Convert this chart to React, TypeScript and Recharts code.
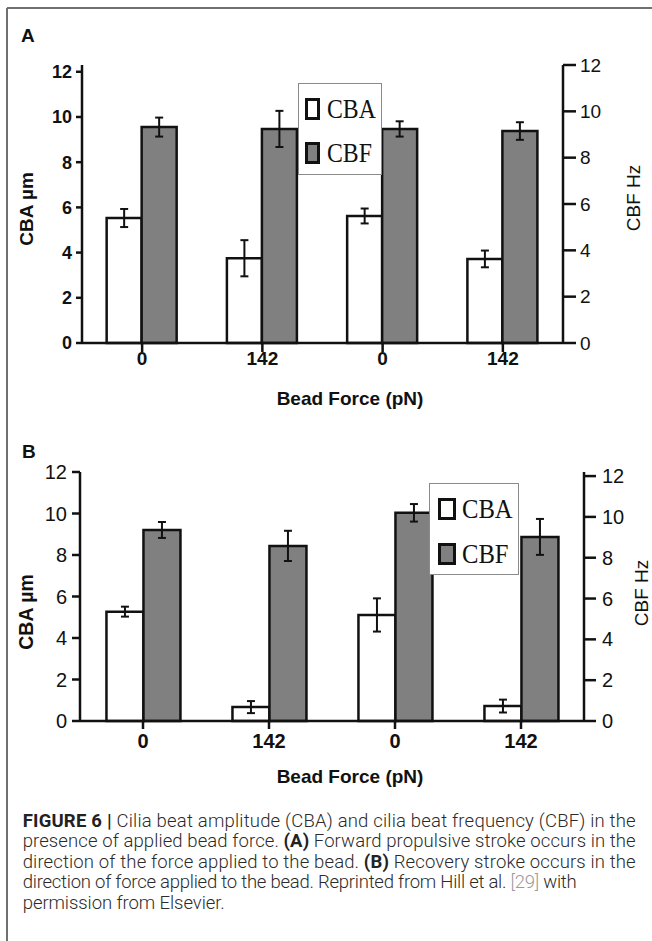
import React from 'react';
import { BarChart, Bar, XAxis, YAxis, ErrorBar, Legend, Label } from 'recharts';

const forceLabels = ['0', '142', '0', '142'];
const seriesNames = ['CBA', 'CBF'];
const seriesFills = ['#ffffff', '#808080'];
const yTicks = [0, 2, 4, 6, 8, 10, 12];

// (A) forward propulsive stroke
const cbaA = [5.53, 3.75, 5.62, 3.72];
const cbaErrA = [0.4, 0.8, 0.33, 0.37];
const cbfA = [9.32, 9.24, 9.24, 9.15];
const cbfErrA = [0.41, 0.78, 0.33, 0.38];

// (B) recovery stroke
const cbaB = [5.27, 0.67, 5.11, 0.72];
const cbaErrB = [0.24, 0.29, 0.8, 0.31];
const cbfB = [9.36, 8.58, 10.2, 9.02];
const cbfErrB = [0.39, 0.74, 0.43, 0.88];

const SANS = '"Liberation Sans", Arial, Helvetica, sans-serif';
const SERIF = '"Liberation Serif", "Times New Roman", serif';
const CAPTION_FONT = 'Roboto, "Liberation Sans", Arial, sans-serif';
const INK = '#111111';

const makeRows = (cba: number[], cbaErr: number[], cbf: number[], cbfErr: number[]) =>
  forceLabels.map((force, i) => ({
    force,
    cba: cba[i],
    cbaErr: cbaErr[i],
    cbf: cbf[i],
    cbfErr: cbfErr[i],
  }));

const panelA = {
  rows: makeRows(cbaA, cbaErrA, cbfA, cbfErrA),
  top: 0, height: 420, marginTop: 65,
  leftW: 82, rightW: 89, xAxisH: 77,
  leftMax: 12.3, rightMax: 12,
  gap: '20.5%',
  leftTick: { size: 6, margin: 4, fontSize: 18, fontWeight: 700 },
  rightTick: { size: 13, margin: 4, fontSize: 19, fontWeight: 400 },
  xTick: { size: 9, margin: 0, fontSize: 19 },
  title: { dx: 27.5, base: 15 },
  leftTitle: { dx: 26, dy: 5, size: 19 },
  rightTitle: { dx: 70, dy: -6, size: 19 },
  legend: { left: 298, top: 83, width: 84, height: 92, iconX: 6, iconW: 15, iconH: 22, textX: 28, rowsY: [25, 69], fontSize: 27 },
};

const panelB = {
  rows: makeRows(cbaB, cbaErrB, cbfB, cbfErrB),
  top: 430, height: 370, marginTop: 42,
  leftW: 80, rightW: 68, xAxisH: 79,
  leftMax: 12, rightMax: 12.2,
  gap: '21%',
  leftTick: { size: 8, margin: 5, fontSize: 20, fontWeight: 400 },
  rightTick: { size: 12, margin: 6, fontSize: 20, fontWeight: 400 },
  xTick: { size: 8, margin: 5, fontSize: 20 },
  title: { dx: 18, base: 17 },
  leftTitle: { dx: 26, dy: 15.5, size: 19.5 },
  rightTitle: { dx: 57, dy: -3.5, size: 19 },
  legend: { left: 429, top: 483, width: 90, height: 92, iconX: 8, iconW: 18, iconH: 22, textX: 32, rowsY: [25, 70], fontSize: 28 },
};

type Panel = typeof panelA;

const vTitle = (p: any, text: string, dx: number, dy: number, size: number, weight: number) => {
  const vb = p.viewBox;
  const cx = vb.x + dx;
  const cy = vb.y + vb.height / 2 + dy;
  return (
    <text
      x={cx}
      y={cy}
      transform={`rotate(-90 ${cx} ${cy})`}
      textAnchor="middle"
      dominantBaseline="central"
      fontFamily={SANS}
      fontSize={size}
      fontWeight={weight}
      fill={INK}
    >
      {text}
    </text>
  );
};

const xTitle = (p: any, dx: number, base: number) => {
  const vb = p.viewBox;
  return (
    <text
      x={vb.x + vb.width / 2 + dx}
      y={vb.y + vb.height - base}
      textAnchor="middle"
      fontFamily={SANS}
      fontSize={19}
      fontWeight={700}
      fill={INK}
    >
      Bead Force (pN)
    </text>
  );
};

const legendBox = (cfg: Panel['legend']) => (props: any) => (
  <div
    style={{
      position: 'relative',
      boxSizing: 'border-box',
      width: cfg.width,
      height: cfg.height,
      border: '1.5px solid #8a8a8a',
      background: '#ffffff',
    }}
  >
    {(props.payload || []).map((entry: any, i: number) => (
      <div
        key={entry.value}
        style={{
          position: 'absolute',
          left: cfg.iconX,
          top: cfg.rowsY[i] - cfg.iconH / 2,
          height: cfg.iconH,
          display: 'flex',
          alignItems: 'center',
        }}
      >
        <span
          style={{
            display: 'block',
            boxSizing: 'border-box',
            width: cfg.iconW,
            height: cfg.iconH,
            border: '3px solid #111',
            background: seriesFills[i],
          }}
        />
        <span
          style={{
            display: 'inline-block',
            marginLeft: cfg.textX - cfg.iconX - cfg.iconW,
            fontFamily: SERIF,
            fontSize: cfg.fontSize,
            lineHeight: 1,
            color: INK,
            transform: 'scaleX(0.88)',
            transformOrigin: 'left center',
          }}
        >
          {entry.value}
        </span>
      </div>
    ))}
  </div>
);

const ChartPanel = ({ cfg }: { cfg: Panel }) => {
  const axisLine = { stroke: INK, strokeWidth: 2.5 };
  const tickLine = { stroke: INK, strokeWidth: 2.5 };
  return (
    <div style={{ position: 'absolute', left: 0, top: cfg.top, width: 652, height: cfg.height }}>
      <BarChart
        width={652}
        height={cfg.height}
        data={cfg.rows}
        margin={{ top: cfg.marginTop, right: 0, bottom: 0, left: 0 }}
        barCategoryGap={cfg.gap}
        barGap={0}
      >
        <XAxis
          dataKey="force"
          height={cfg.xAxisH}
          interval={0}
          axisLine={axisLine}
          tickLine={tickLine}
          tickSize={cfg.xTick.size}
          tickMargin={cfg.xTick.margin}
          tick={{ fontFamily: SANS, fontSize: cfg.xTick.fontSize, fontWeight: 700, fill: INK }}
        >
          <Label content={(p: any) => xTitle(p, cfg.title.dx, cfg.title.base)} />
        </XAxis>
        <YAxis
          yAxisId="left"
          orientation="left"
          width={cfg.leftW}
          domain={[0, cfg.leftMax]}
          ticks={yTicks}
          interval={0}
          axisLine={axisLine}
          tickLine={tickLine}
          tickSize={cfg.leftTick.size}
          tickMargin={cfg.leftTick.margin}
          tick={{ fontFamily: SANS, fontSize: cfg.leftTick.fontSize, fontWeight: cfg.leftTick.fontWeight, fill: INK }}
        >
          <Label content={(p: any) => vTitle(p, 'CBA µm', cfg.leftTitle.dx, cfg.leftTitle.dy, cfg.leftTitle.size, 700)} />
        </YAxis>
        <YAxis
          yAxisId="right"
          orientation="right"
          width={cfg.rightW}
          domain={[0, cfg.rightMax]}
          ticks={yTicks}
          interval={0}
          axisLine={axisLine}
          tickLine={tickLine}
          tickSize={cfg.rightTick.size}
          tickMargin={cfg.rightTick.margin}
          tick={{ fontFamily: SANS, fontSize: cfg.rightTick.fontSize, fontWeight: cfg.rightTick.fontWeight, fill: INK }}
        >
          <Label content={(p: any) => vTitle(p, 'CBF Hz', cfg.rightTitle.dx, cfg.rightTitle.dy, cfg.rightTitle.size, 400)} />
        </YAxis>
        <Legend
          layout="horizontal"
          verticalAlign="middle"
          align="center"
          width={cfg.legend.width}
          height={cfg.legend.height}
          wrapperStyle={{ left: cfg.legend.left, top: cfg.legend.top - cfg.top, width: cfg.legend.width, height: cfg.legend.height }}
          content={legendBox(cfg.legend)}
        />
        <Bar
          dataKey="cba"
          name={seriesNames[0]}
          yAxisId="left"
          fill={seriesFills[0]}
          stroke={INK}
          strokeWidth={2.5}
          isAnimationActive={false}
        >
          <ErrorBar dataKey="cbaErr" width={4} stroke={INK} strokeWidth={2} />
        </Bar>
        <Bar
          dataKey="cbf"
          name={seriesNames[1]}
          yAxisId="right"
          fill={seriesFills[1]}
          stroke={INK}
          strokeWidth={2.5}
          isAnimationActive={false}
        >
          <ErrorBar dataKey="cbfErr" width={4} stroke={INK} strokeWidth={2} />
        </Bar>
      </BarChart>
    </div>
  );
};

type Seg = { t: string; b?: boolean; c?: string };

const captionLines: Seg[][] = [
  [{ t: 'FIGURE 6 | ', b: true }, { t: 'Cilia beat amplitude (CBA) and cilia beat frequency (CBF) in the' }],
  [{ t: 'presence of applied bead force. ' }, { t: '(A)', b: true }, { t: ' Forward propulsive stroke occurs in the' }],
  [{ t: 'direction of the force applied to the bead. ' }, { t: '(B)', b: true }, { t: ' Recovery stroke occurs in the' }],
  [{ t: 'direction of force applied to the bead. Reprinted from Hill et al. ' }, { t: '[29]', c: '#9a9a9a' }, { t: ' with' }],
  [{ t: 'permission from Elsevier.' }],
];
const captionWidths = [613, 613, 613, 554, 202];

const App = () => (
  <div
    style={{
      position: 'absolute',
      left: 0,
      top: 0,
      width: 652,
      height: 941,
      background: '#ffffff',
      overflow: 'hidden',
    }}
  >
    <svg width={652} height={941} style={{ position: 'absolute', left: 0, top: 0 }}>
      <line x1={7} y1={8} x2={652} y2={8} stroke="#707070" strokeWidth={2} />
      <line x1={7} y1={8} x2={7} y2={941} stroke="#707070" strokeWidth={2} />
      <text x={21} y={42} fontFamily={SANS} fontSize={19} fontWeight={700} fill={INK}>A</text>
      <text x={22} y={458} fontFamily={SANS} fontSize={19} fontWeight={700} fill={INK}>B</text>
      {captionLines.map((line, i) => (
        <text
          key={i}
          x={22.7}
          y={827 + i * 20.4}
          textLength={captionWidths[i]}
          lengthAdjust="spacing"
          fontFamily={CAPTION_FONT}
          fontSize={18.5}
          fontWeight={300}
          fill="#2b2b2b"
          style={{ whiteSpace: 'pre' }}
        >
          {line.map((seg, j) => (
            <tspan key={j} fontWeight={seg.b ? 700 : 300} fill={seg.c || (seg.b ? '#222' : '#2b2b2b')}>
              {seg.t}
            </tspan>
          ))}
        </text>
      ))}
    </svg>
    <ChartPanel cfg={panelA} />
    <ChartPanel cfg={panelB} />
  </div>
);

export default App;
